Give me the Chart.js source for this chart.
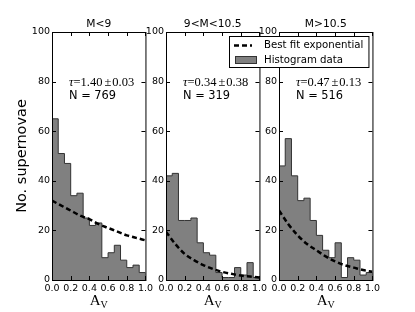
<!DOCTYPE html>
<html>
<head>
<meta charset="utf-8">
<script src="https://cdn.jsdelivr.net/npm/chart.js@4.4.1/dist/chart.umd.min.js"></script>
<style>
body { margin: 0; background: #fff; }
#wrap { position: relative; width: 415px; height: 312px; overflow: hidden; background: #fff; }
canvas { position: absolute; top: 0; }
</style>
</head>
<body>
<div id="wrap">
  <canvas id="c1"></canvas>
  <canvas id="c2"></canvas>
  <canvas id="c3"></canvas>
</div>
<script>
"use strict";
// histogram counts, 15 equal bins over A_V = 0..1
var countsLow = [65, 51, 47, 34, 35, 25, 22, 23, 9, 11, 14, 8, 5, 6, 3]
var countsMid = [42, 43, 24, 24, 25, 15, 11, 10, 3, 1, 1, 5, 2, 7, 1]
var countsHigh = [46, 57, 42, 32, 33, 24, 18, 12, 9, 15, 1, 9, 8, 2, 3]
var fitX = [0, 0.1, 0.2, 0.3, 0.4, 0.5, 0.6, 0.7, 0.8, 0.9, 1.0]
var fitLow = [32, 30, 28, 26, 24.5, 22.5, 21, 19.5, 18, 17, 16]
var fitMid = [19.5, 14.5, 10.5, 8, 6, 4.5, 3.3, 2.5, 1.8, 1.4, 1.0]
var fitHigh = [28, 22.5, 18, 14.5, 12, 9.5, 7.5, 6, 5, 4, 3.3]
var titles = ["M<9", "9<M<10.5", "M>10.5"]
var tauVal = ["1.40", "0.34", "0.47"]
var tauErr = ["0.03", "0.38", "0.13"]
var nVal = ["769", "319", "516"]
var xTicks = [0, 0.2, 0.4, 0.6, 0.8, 1.0]
var yTicks = [0, 20, 40, 60, 80, 100]

var SANS = "'DejaVu Sans'"
var SERIF = "'Liberation Serif'"

function stepPoints(counts) {
    var pts = [{x: 0, y: 0}]
    counts.forEach(function(c, i) { pts.push({x: i / counts.length, y: c}) })
    pts.push({x: 1, y: 0})
    return pts
}

var panelPlugin = {
    id: 'panel',
    afterDraw: function(chart, args, o) {
        var ctx = chart.ctx, a = chart.chartArea
        var sx = chart.scales.x, sy = chart.scales.y
        ctx.save()
        // inside ticks
        ctx.strokeStyle = '#000'
        ctx.lineWidth = 1
        ctx.beginPath()
        yTicks.forEach(function(v) {
            var y = Math.round(sy.getPixelForValue(v)) + 0.5
            ctx.moveTo(a.left, y); ctx.lineTo(a.left + 4, y)
            ctx.moveTo(a.right, y); ctx.lineTo(a.right - 4, y)
        })
        xTicks.forEach(function(v) {
            var x = Math.round(sx.getPixelForValue(v)) + 0.5
            ctx.moveTo(x, a.top); ctx.lineTo(x, a.top + 4)
            ctx.moveTo(x, a.bottom); ctx.lineTo(x, a.bottom - 4)
        })
        ctx.stroke()
        // frame
        ctx.strokeRect(a.left + 0.5, a.top + 0.5, a.right - a.left, a.bottom - a.top)

        var cx = (a.left + a.right) / 2
        ctx.fillStyle = '#000'
        ctx.textBaseline = 'alphabetic'
        // title
        ctx.font = "10.7px " + SANS
        ctx.textAlign = 'center'
        ctx.fillText(titles[o.idx], cx, 27)
        // x label A_V
        ctx.font = "15px " + SERIF
        var wA = ctx.measureText('A').width
        ctx.font = "10px " + SERIF
        var wV = ctx.measureText('V').width
        var x0 = cx - (wA + wV) / 2
        ctx.textAlign = 'left'
        ctx.font = "15px " + SERIF
        ctx.fillText('A', x0, 305)
        ctx.font = "10px " + SERIF
        ctx.fillText('V', x0 + wA, 308)
        // tau / N annotation
        var tx = a.left + 17
        ctx.font = "italic 12.5px " + SERIF
        ctx.fillText('\u03c4', tx, 86)
        tx += ctx.measureText('\u03c4').width
        ctx.font = "12.5px " + SERIF
        var s1 = '=' + tauVal[o.idx]
        ctx.fillText(s1, tx, 86)
        tx += ctx.measureText(s1).width + 2
        ctx.fillText('\u00b1', tx, 86)
        tx += ctx.measureText('\u00b1').width + 1
        ctx.fillText(tauErr[o.idx], tx, 86)
        ctx.font = "11.4px " + SANS
        ctx.fillText('N = ' + nVal[o.idx], a.left + 17, 99)
        // y label on first panel
        if (o.yLabel) {
            ctx.save()
            ctx.translate(22.5, 156)
            ctx.rotate(-Math.PI / 2)
            ctx.font = "14.5px " + SANS
            ctx.textAlign = 'center'
            ctx.textBaseline = 'middle'
            ctx.fillText('No. supernovae', 0, 0)
            ctx.restore()
        }
        // legend
        if (o.legend) {
            var fit = chart.data.datasets[0], hist = chart.data.datasets[1]
            var L = a.left - 50, R = a.right - 4, T = 36, B = 67
            ctx.fillStyle = '#fff'
            ctx.fillRect(L, T, R - L, B - T)
            ctx.strokeStyle = '#000'
            ctx.lineWidth = 1
            ctx.strokeRect(L + 0.5, T + 0.5, R - L, B - T)
            ctx.beginPath()
            ctx.setLineDash(fit.borderDash)
            ctx.lineWidth = fit.borderWidth
            ctx.moveTo(L + 5, 45.5); ctx.lineTo(L + 23, 45.5)
            ctx.stroke()
            ctx.setLineDash([])
            ctx.fillStyle = hist.backgroundColor
            ctx.fillRect(L + 6, 56.5, 21, 7)
            ctx.strokeStyle = hist.borderColor
            ctx.lineWidth = 1
            ctx.strokeRect(L + 6.5, 56.5, 21, 7)
            ctx.fillStyle = '#000'
            ctx.font = "10.2px " + SANS
            ctx.textAlign = 'left'
            ctx.textBaseline = 'middle'
            ctx.fillText(fit.label, L + 35, 45)
            ctx.fillText(hist.label, L + 35, 60)
        }
        ctx.restore()
    }
}

function makeChart(id, idx, counts, fit, yW, left, extra) {
    var el = document.getElementById(id)
    var w = yW + 94 + 10
    el.width = w
    el.height = 312
    el.style.left = left + 'px'
    el.style.width = w + 'px'
    el.style.height = '312px'
    var opts = {idx: idx, yLabel: !!extra.yLabel, legend: !!extra.legend}
    return new Chart(el.getContext('2d'), {
        type: 'line',
        data: {
            datasets: [{
                label: 'Best fit exponential',
                data: fitX.map(function(x, i) { return {x: x, y: fit[i]} }),
                borderColor: '#000',
                borderWidth: 2.5,
                borderDash: [5, 3],
                pointRadius: 0,
                fill: false,
                cubicInterpolationMode: 'monotone'
            }, {
                label: 'Histogram data',
                data: stepPoints(counts),
                stepped: true,
                fill: 'origin',
                backgroundColor: '#808080',
                borderColor: '#333333',
                borderWidth: 1,
                pointRadius: 0
            }]
        },
        options: {
            responsive: false,
            animation: false,
            events: [],
            layout: {padding: {top: 32, right: 10, left: 0, bottom: 0}},
            plugins: {legend: {display: false}, tooltip: {enabled: false}, panel: opts},
            scales: {
                x: {
                    type: 'linear', min: 0, max: 1,
                    afterFit: function(s) { s.height = 32 },
                    grid: {display: false, drawTicks: false},
                    border: {display: false},
                    ticks: {
                        stepSize: 0.2, padding: 3, maxRotation: 0, autoSkip: false,
                        color: '#000', font: {family: 'DejaVu Sans', size: 9.5},
                        callback: function(v) { return v.toFixed(1) }
                    }
                },
                y: {
                    type: 'linear', min: 0, max: 100,
                    afterFit: function(s) { s.width = yW },
                    grid: {display: false, drawTicks: false},
                    border: {display: false},
                    ticks: {
                        stepSize: 20, padding: 2,
                        color: '#000', font: {family: 'DejaVu Sans', size: 9.5}
                    }
                }
            }
        },
        plugins: [panelPlugin]
    })
}

makeChart('c1', 0, countsLow, fitLow, 52, 0, {yLabel: true})
makeChart('c2', 1, countsMid, fitMid, 30, 136, {})
makeChart('c3', 2, countsHigh, fitHigh, 59, 220, {legend: true})
</script>
</body>
</html>
